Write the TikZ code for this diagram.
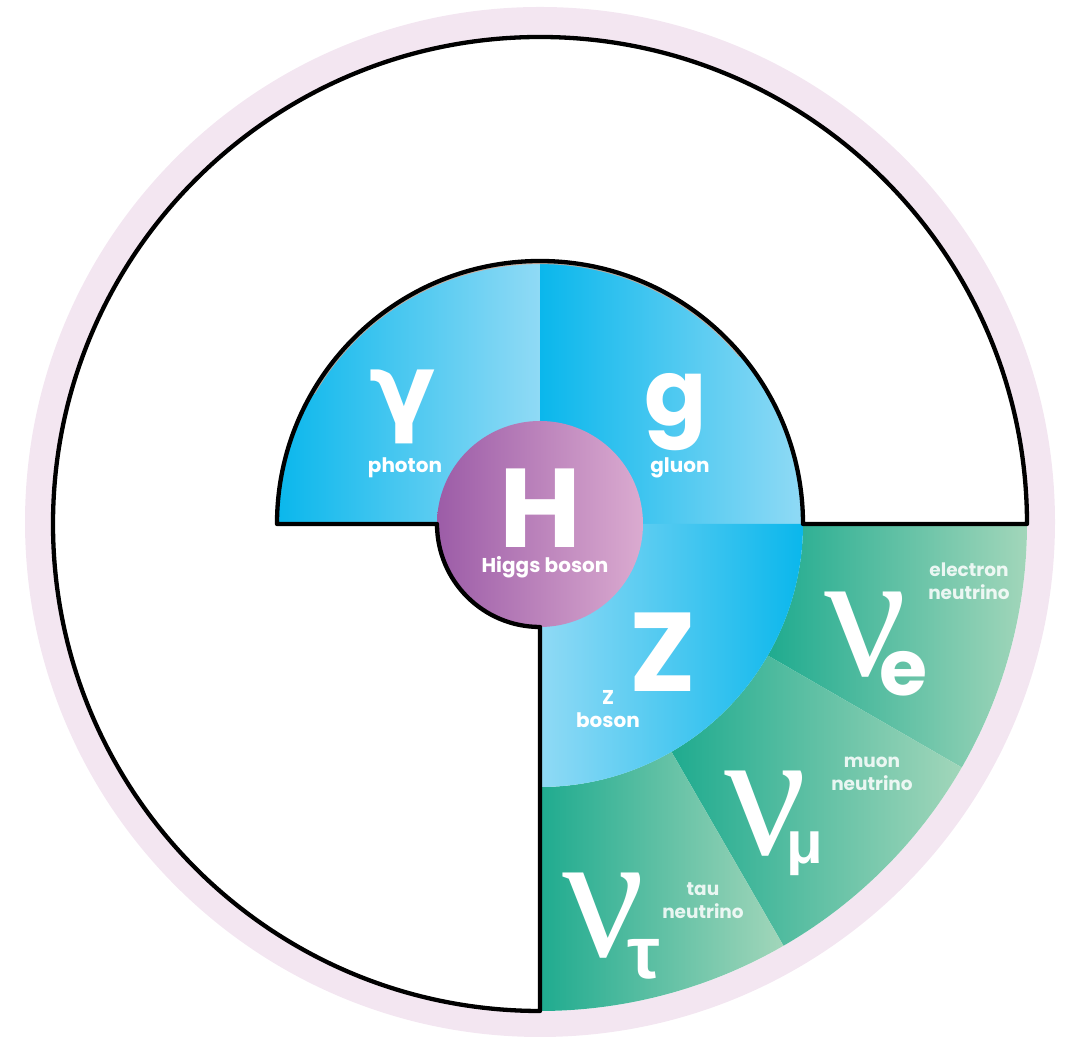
\documentclass[tikz,border=0pt]{standalone}
\usepackage{fontspec}
\setmainfont{Poppins}
\newfontfamily\grsans{Liberation Sans}
\newfontfamily\grserif{Liberation Serif}
\newfontfamily\djv{DejaVu Sans}
\definecolor{ringpink}{HTML}{F3E6F1}
\definecolor{bluedark}{HTML}{0AB7EC}
\definecolor{bluelight}{HTML}{90DAF5}
\definecolor{greendark}{HTML}{1FAB8F}
\definecolor{greenlight}{HTML}{A2D6BA}
\definecolor{higgsleft}{HTML}{9C5CA7}
\definecolor{higgsright}{HTML}{DBABD0}
\definecolor{fringe}{HTML}{F0A07C}
\tikzset{
  outline/.style={draw=black, line width=4.3pt, line join=round},
  lbl/.style={text=white, inner sep=0pt, align=center, font=\bfseries\fontsize{20}{23}\selectfont},
  nlbl/.style={text=white, text opacity=0.85, inner sep=0pt, align=center, font=\bfseries\fontsize{18.5}{23}\selectfont},
  bigsym/.style={text=white, inner sep=0pt, font=\bfseries\fontsize{112}{112}\selectfont},
  nusym/.style={text=white, inner sep=0pt, font=\grserif\fontsize{182}{182}\selectfont},
  subsym/.style={text=white, inner sep=0pt},
}
\begin{document}
\begin{tikzpicture}[x=1pt,y=1pt]
\useasboundingbox (0,0) rectangle (1072,1040);
\begin{scope}[shift={(540,516)}]
  % pale ring and white disk
  \fill[ringpink] (0,2) circle[radius=515];
  \fill[white] (0,0) circle[radius=487];
  % green neutrino sectors
  \shade[left color=greendark, right color=greenlight]
    (0:263) -- (0:487) arc[start angle=0, end angle=-30, radius=487]
    -- (-30:263) arc[start angle=-30, end angle=0, radius=263] -- cycle;
  \shade[left color=greendark, right color=greenlight]
    (-30:263) -- (-30:487) arc[start angle=-30, end angle=-60, radius=487]
    -- (-60:263) arc[start angle=-60, end angle=-30, radius=263] -- cycle;
  \shade[left color=greendark, right color=greenlight]
    (-60:263) -- (-60:487) arc[start angle=-60, end angle=-90, radius=487]
    -- (-90:263) arc[start angle=-90, end angle=-60, radius=263] -- cycle;
  % blue quadrants
  \shade[left color=bluedark, right color=bluelight]
    (0,0) -- (180:263) arc[start angle=180, end angle=90, radius=263] -- cycle;
  \shade[left color=bluedark, right color=bluelight]
    (0,0) -- (90:263) arc[start angle=90, end angle=0, radius=263] -- cycle;
  \shade[left color=bluelight, right color=bluedark]
    (0,0) -- (0:263) arc[start angle=0, end angle=-90, radius=263] -- cycle;
  % Higgs disk
  \shade[left color=higgsleft, right color=higgsright] (0,0) circle[radius=103];
  % faint fringe
  \draw[fringe, line width=1.2pt, opacity=0.7] (150:260.5) arc[start angle=150, end angle=40, radius=260.5];
  % outline of the white region
  \draw[outline] (263,0) -- (487,0) arc[start angle=0, end angle=270, radius=487]
    -- (0,-103) arc[start angle=270, end angle=180, radius=103]
    -- (-263,0) arc[start angle=180, end angle=0, radius=263] -- cycle;
  % labels
  \node[bigsym, font=\djv\bfseries\fontsize{98}{98}\selectfont] (gam) at (-137,117) {γ};
  \node[lbl] (pho) at (-135,56) {photon};
  \node[bigsym, font=\bfseries\fontsize{92}{92}\selectfont] (glu) at (136,112) {g};
  \node[lbl] (gll) at (140,56) {gluon};
  \node[bigsym] (hig) at (0,16) {H};
  \node[lbl] (hgl) at (5,-43) {Higgs boson};
  \node[bigsym] (zb) at (123,-128) {Z};
  \node[lbl] (zbl) at (68,-185) {Z\\boson};
  % electron neutrino
  \node[nusym] (nue) at (326,-111) {ν};
  \node[subsym, font=\bfseries\fontsize{78}{78}\selectfont] (sube) at (364,-150) {e};
  \node[nlbl] (nuel) at (429,-57) {electron\\neutrino};
  % muon neutrino
  \node[nusym] (num) at (226,-290) {ν};
  \node[subsym, font=\grsans\bfseries\fontsize{60}{60}\selectfont] (subm) at (265,-330) {μ};
  \node[nlbl] (numl) at (332,-250) {muon\\neutrino};
  % tau neutrino
  \node[nusym] (nut) at (64,-392) {ν};
  \node[subsym, font=\grsans\bfseries\fontsize{74}{74}\selectfont] (subt) at (104,-435) {τ};
  \node[nlbl] (nutl) at (163,-377) {tau\\neutrino};
\end{scope}
\end{tikzpicture}
\end{document}
